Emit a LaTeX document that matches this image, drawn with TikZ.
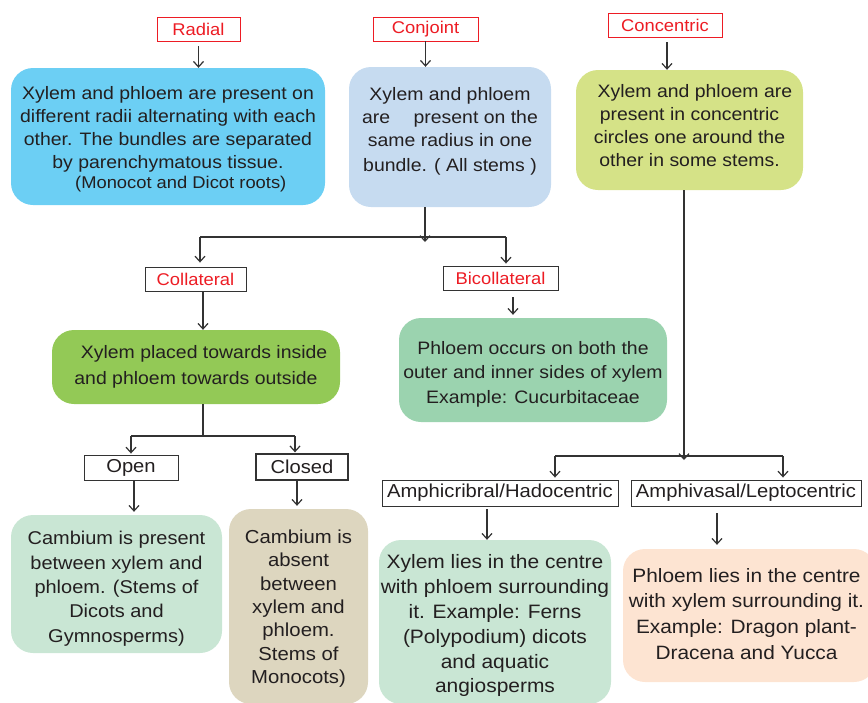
\documentclass[tikz,border=0pt]{standalone}
\usepackage{fontspec}
\setmainfont{Liberation Sans}[FakeStretch=1.08]
\usetikzlibrary{arrows.meta}
\definecolor{txt}{HTML}{231F20}
\definecolor{lc}{HTML}{333333}
\definecolor{redt}{HTML}{ED1C24}
\definecolor{cRadial}{HTML}{6CCFF4}
\definecolor{cConj}{HTML}{C6DBF0}
\definecolor{cConc}{HTML}{D5E287}
\definecolor{cColl}{HTML}{93C956}
\definecolor{cBicoll}{HTML}{9BD3AF}
\definecolor{cOpen}{HTML}{C9E6D4}
\definecolor{cClosed}{HTML}{DDD6BF}
\definecolor{cAmphiv}{HTML}{FDE4D2}
\newcommand{\topstrut}[1]{\rule{0pt}{#1}}
\newcommand{\botstrut}[1]{\rule[-#1]{0pt}{0pt}}
\begin{document}
\begin{tikzpicture}[x=1pt,y=-1pt,
  box/.style={rounded corners=22pt, inner sep=0pt, align=center, text=txt,
    font=\fontsize{18}{23}\selectfont},
  lbl/.style={draw=lc, fill=white, line width=0.9pt, inner sep=0pt, text=txt,
    font=\fontsize{18.7}{20}\selectfont},
  rlbl/.style={lbl, draw=redt, text=redt, font=\fontsize{17}{20}\selectfont},
  blbl/.style={lbl, text=redt, font=\fontsize{17}{20}\selectfont},
  arr/.style={draw=lc, line width=1.2pt, -{Straight Barb[length=5.5pt,width=10pt,line width=1.2pt]}},
  ln/.style={draw=lc, line width=1.2pt}]
\useasboundingbox (0,0) rectangle (868,702);
\clip (0,0) rectangle (868,702);

% top labels
\node[rlbl, minimum width=83pt, minimum height=24pt] (radl) at (198.5,29) {Radial};
\node[rlbl, minimum width=105pt, minimum height=24pt] (conjl) at (425.5,29) {Conjoint};
\node[rlbl, minimum width=114pt, minimum height=24pt] (concl) at (665,25) {Concentric};

% top boxes
\node[box, fill=cRadial, minimum width=314pt, minimum height=137pt] (rad) at (168,136.5)
  {\topstrut{19pt}Xylem and phloem are present on\\different radii alternating with each\\other. The bundles are separated\\by parenchymatous tissue.\\[-3pt]{\fontsize{17}{19}\selectfont\ \ \ \ \ (Monocot and Dicot roots)}};
\node[box, fill=cConj, minimum width=202pt, minimum height=140pt] (conj) at (450,137)
  {Xylem and phloem\\are \quad present on the\\same radius in one\\[2pt]bundle. ( All stems )\botstrut{15pt}};
\node[box, fill=cConc, minimum width=227pt, minimum height=120pt] (conc) at (689.5,130)
  {\ \ Xylem and phloem are\\present in concentric\\circles one around the\\other in some stems.\botstrut{9pt}};

% collateral / bicollateral
\node[blbl, minimum width=101pt, minimum height=24pt] (colll) at (195.5,279) {Collateral};
\node[blbl, minimum width=115pt, minimum height=24pt] (bicl) at (500.5,278) {Bicollateral};
\node[box, fill=cColl, minimum width=288pt, minimum height=74pt] (coll) at (196,367)
  {\ \ \ Xylem placed towards inside\\[3pt]and phloem towards outside};
\node[box, fill=cBicoll, font=\fontsize{18}{24.5}\selectfont, minimum width=268pt, minimum height=104pt] (bic) at (533,370)
  {\topstrut{21pt}Phloem occurs on both the\\outer and inner sides of xylem\\Example: Cucurbitaceae};

% open / closed
\node[lbl, minimum width=94pt, minimum height=25pt] (openl) at (131,467.5) {Open};
\node[lbl, line width=1.3pt, minimum width=92pt, minimum height=26pt] (closl) at (302,467) {Closed};
\node[box, fill=cOpen, font=\fontsize{18.5}{24.3}\selectfont, minimum width=211pt, minimum height=138pt] (open) at (116.5,584)
  {\topstrut{23pt}Cambium is present\\between xylem and\\phloem. (Stems of\\Dicots and\\Gymnosperms)};
\node[box, fill=cClosed, font=\fontsize{18.8}{23.3}\selectfont, minimum width=139pt, minimum height=195pt] (clos) at (298.5,606.5)
  {\topstrut{18pt}Cambium is\\absent\\between\\xylem and\\phloem.\\Stems of\\Monocots)};

% concentric subtypes
\node[lbl, minimum width=236pt, minimum height=26pt] (amcl) at (500,493) {Amphicribral/Hadocentric};
\node[lbl, minimum width=230pt, minimum height=26pt] (amvl) at (746,493) {Amphivasal/Leptocentric};
\node[box, fill=cOpen, font=\fontsize{19.4}{24.8}\selectfont, minimum width=232pt, minimum height=164pt] (amc) at (495,622)
  {\topstrut{22pt}Xylem lies in the centre\\with phloem surrounding\\it. Example: Ferns\\(Polypodium) dicots\\and aquatic\\angiosperms};
\node[box, fill=cAmphiv, font=\fontsize{19.3}{25.7}\selectfont, minimum width=253pt, minimum height=133pt] (amv) at (749.5,615.5)
  {\hspace*{-6pt}\begin{tabular}{@{}c@{}}Phloem lies in the centre\\with xylem surrounding it.\\Example: Dragon plant-\\Dracena and Yucca\end{tabular}};

% junction coordinates
\coordinate (j1) at (425,237);
\coordinate (j2) at (203,436);
\coordinate (j3) at (684,456);

% connectors
\draw[arr, shorten <=5pt] (radl.south) -- (radl.south |- rad.north);
\draw[arr] (conjl.south) -- (conjl.south |- conj.north);
\draw[arr, shorten <=5pt] ([xshift=2pt]concl.south) -- ([xshift=2pt]concl.south |- conc.north);

\draw[arr, shorten >=-2pt] (conj.south -| j1) -- ([yshift=-3pt]j1);
\draw[ln] (j1 -| 200,0) -- (j1 -| 506,0);
\draw[arr, shorten >=4pt] (j1 -| 200,0) -- (200,0 |- colll.north);
\draw[arr, shorten >=2pt] (j1 -| 506,0) -- (506,0 |- bicl.north);

\draw[arr] ([xshift=7.5pt]colll.south) -- ([xshift=7.5pt]colll.south |- coll.north);
\draw[arr, shorten <=7pt, shorten >=3pt] ([xshift=12.5pt]bicl.south) -- ([xshift=12.5pt]bicl.south |- bic.north);

\draw[ln] (coll.south -| j2) -- (j2);
\draw[ln] (j2 -| 131,0) -- (j2 -| 295,0);
\draw[arr, shorten >=1pt] (j2 -| 131,0) -- (131,0 |- openl.north);
\draw[arr, shorten >=1pt] (j2 -| 295,0) -- (295,0 |- closl.north);

\draw[arr, shorten >=3pt] ([xshift=3pt]openl.south) -- ([xshift=3pt]openl.south |- open.north);
\draw[arr, shorten >=3pt] ([xshift=-5pt]closl.south) -- ([xshift=-5pt]closl.south |- clos.north);

\draw[arr, shorten >=-1pt] (conc.south -| j3) -- ([yshift=-3pt]j3);
\draw[ln] (j3 -| 555,0) -- (j3 -| 783,0);
\draw[arr, shorten >=2pt] (j3 -| 555,0) -- (555,0 |- amcl.north);
\draw[arr, shorten >=2pt] (j3 -| 783,0) -- (783,0 |- amvl.north);

\draw[arr, shorten <=3pt] ([xshift=-13pt]amcl.south) -- ([xshift=-13pt]amcl.south |- amc.north);
\draw[arr, shorten <=7pt, shorten >=4pt] ([xshift=-29pt]amvl.south) -- ([xshift=-29pt]amvl.south |- amv.north);
\end{tikzpicture}
\end{document}
